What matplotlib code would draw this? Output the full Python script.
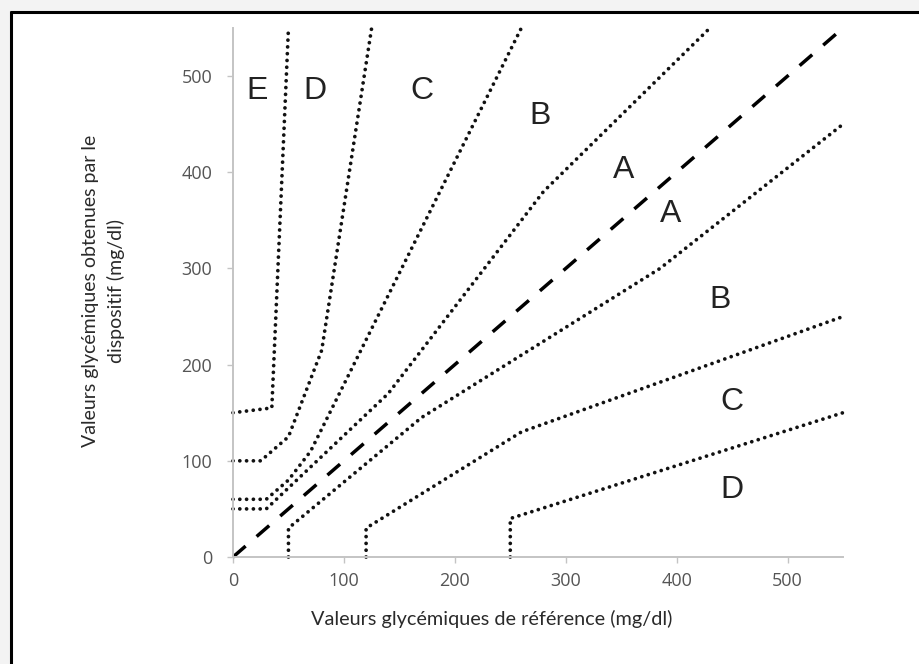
import matplotlib.pyplot as plt
from matplotlib.patches import Rectangle
from matplotlib.lines import Line2D

# Parkes consensus error grid (type 1) zone boundaries, mg/dl
a_up_x = [0, 30, 140, 280, 430]
a_up_y = [50, 50, 170, 380, 550]
a_lo_x = [50, 50, 170, 385, 550]
a_lo_y = [0, 30, 145, 300, 450]
b_up_x = [0, 30, 50, 70, 260]
b_up_y = [60, 60, 80, 110, 550]
b_lo_x = [120, 120, 260, 550]
b_lo_y = [0, 30, 130, 250]
c_up_x = [0, 25, 50, 80, 125]
c_up_y = [100, 100, 125, 215, 550]
c_lo_x = [250, 250, 550]
c_lo_y = [0, 40, 150]
d_up_x = [0, 35, 50]
d_up_y = [150, 155, 550]
identity = [0, 550]

zone_labels = ["E", "D", "C", "B", "A", "A", "B", "C", "D"]
zone_x = [22, 74, 170, 277, 352, 395, 439, 450, 450]
zone_y = [485, 485, 485, 459, 402, 357, 267, 161, 70]

ticks = [0, 100, 200, 300, 400, 500]

W, H = 919, 664
fig = plt.figure(figsize=(W / 100, H / 100), dpi=100, facecolor="#f3f3f3")

# white card with the black frame on top and left
fig.patches.append(Rectangle((10 / W, 0), 1, (H - 11) / H, transform=fig.transFigure,
                             facecolor="white", edgecolor="none", zorder=-10))
fig.lines.append(Line2D([10.5 / W, 10.5 / W], [0, (H - 11) / H], transform=fig.transFigure,
                        color="black", linewidth=2.2, solid_capstyle="butt", zorder=-5))
fig.lines.append(Line2D([9.5 / W, 1], [(H - 11.5) / H, (H - 11.5) / H], transform=fig.transFigure,
                        color="black", linewidth=2.2, solid_capstyle="butt", zorder=-5))

ax = fig.add_axes([233 / W, (H - 557) / H, 610 / W, 529 / H])
ax.set_facecolor("none")

dots = dict(color="#111111", linewidth=2.7, linestyle=(0, (0.01, 1.8)),
            dash_capstyle="round", clip_on=False)
for xs, ys in [(a_up_x, a_up_y), (a_lo_x, a_lo_y), (b_up_x, b_up_y), (b_lo_x, b_lo_y),
               (c_up_x, c_up_y), (c_lo_x, c_lo_y), (d_up_x, d_up_y)]:
    ax.plot(xs, ys, **dots)

ax.plot(identity, identity, color="black", linewidth=2.5,
        linestyle=(0, (4.8, 4.2)), dash_capstyle="butt", clip_on=False)

for lab, x, y in zip(zone_labels, zone_x, zone_y):
    ax.text(x, y, lab, ha="center", va="center", fontsize=23,
            family="Liberation Sans", color="#222222")

ax.set_xlim(0, 550)
ax.set_ylim(0, 550)
ax.set_xticks(ticks)
ax.set_yticks(ticks)
for s in ["top", "right"]:
    ax.spines[s].set_visible(False)
for s in ["left", "bottom"]:
    ax.spines[s].set_color("#c4c4c4")
    ax.spines[s].set_linewidth(1.4)
ax.tick_params(colors="#c4c4c4", length=4, width=1, labelcolor="#555555", labelsize=13)
ax.tick_params(axis="x", pad=7)
ax.tick_params(axis="y", pad=11)
for t in ax.get_xticklabels() + ax.get_yticklabels():
    t.set_family("Open Sans")

ax.set_xlabel("Valeurs glycémiques de référence (mg/dl)", family="Lato",
              fontsize=14.3, color="#2a2a2a")
ax.set_ylabel("Valeurs glycémiques obtenues par le\ndispositif (mg/dl)", family="Lato",
              fontsize=14, color="#2a2a2a", linespacing=1.55)
ax.xaxis.label.set_va("center")
ax.yaxis.label.set_va("center")
ax.xaxis.set_label_coords(0.424, -0.118)
ax.yaxis.set_label_coords(-0.212, 0.503)

fig.savefig("out.png", dpi=100, facecolor=fig.get_facecolor())
